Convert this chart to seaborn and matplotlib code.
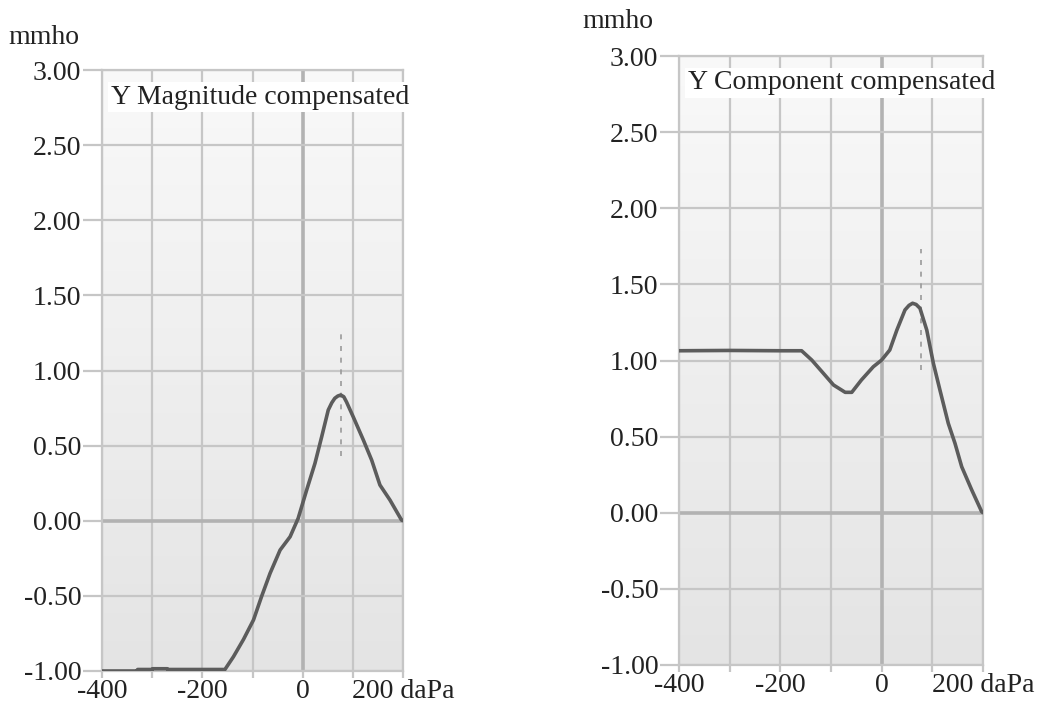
import numpy as np
import pandas as pd
import matplotlib
matplotlib.use("Agg")
import matplotlib.pyplot as plt
import seaborn as sns

sns.set_theme(style="white")
plt.rcParams['font.family'] = ['Liberation Serif', 'DejaVu Serif']
plt.rcParams['axes.unicode_minus'] = False

# ---- data ----
mag_x = [-400, -330, -329, -300, -299, -270, -269, -200, -190, -155, -138, -118, -98, -82, -65,
         -45, -25, -9, 8, 24.5, 38, 51, 58, 64, 70, 76, 82, 87.5, 101, 121, 137.5, 154, 174, 197, 200]
mag_y = [-1.00, -1.00, -0.99, -0.99, -0.985, -0.985, -0.99, -0.99, -0.99, -0.99, -0.905, -0.79,
         -0.66, -0.505, -0.35, -0.195, -0.106, 0.016, 0.205, 0.382, 0.56, 0.737, 0.785, 0.815,
         0.83, 0.837, 0.825, 0.79, 0.69, 0.537, 0.404, 0.238, 0.138, 0.005, 0.0]

comp_x = [-400, -300, -200, -158, -138, -118, -95, -72, -59, -40, -16.5, 0, 16, 30, 46, 54, 61,
          68, 75.6, 89, 102, 115, 131.5, 144.7, 158, 177.7, 197.4, 200]
comp_y = [1.064, 1.066, 1.064, 1.064, 1.003, 0.927, 0.839, 0.791, 0.791, 0.872, 0.959, 1.003,
          1.069, 1.20, 1.332, 1.362, 1.376, 1.368, 1.343, 1.20, 0.982, 0.806, 0.587, 0.456,
          0.302, 0.15, 0.007, 0.0]

mag_marker = [77, 0.43, 1.24]
comp_marker = [77, 0.94, 1.73]

titles = ["Y Magnitude compensated", "Y Component compensated"]
y_ticks = [-1.0, -0.5, 0.0, 0.5, 1.0, 1.5, 2.0, 2.5, 3.0]
y_tick_labels = ["-1.00", "-0.50", "0.00", "0.50", "1.00", "1.50", "2.00", "2.50", "3.00"]
x_major = [-400, -200, 0, 200]
x_major_labels = ["-400", "-200", "0", "200 daPa"]
x_minor = [-300, -100, 100]
y_unit = "mmho"

fig = plt.figure(figsize=(10.55, 7.04), dpi=100)
ax1 = fig.add_axes([102/1055, 1-671/704, 301/1055, 601/704])
ax2 = fig.add_axes([679/1055, 1-665/704, 304/1055, 609/704])

grad = np.linspace(0, 1, 256).reshape(-1, 1)
FS = 20
line_col = "#5c5c5c"
grid_col = "#c6c6c6"
zero_col = "#b2b2b2"
cmap = matplotlib.colors.LinearSegmentedColormap.from_list("g", ["#f9f9f9", "#e4e4e4"])

panels = [(ax1, mag_x, mag_y, mag_marker, titles[0], 0.955),
          (ax2, comp_x, comp_y, comp_marker, titles[1], 0.956)]

for ax, xs, ys, mk, title, ty in panels:
    ax.imshow(grad, extent=[0, 1, 0, 1], transform=ax.transAxes, cmap=cmap,
              aspect='auto', zorder=0, interpolation='bicubic')
    ax.set_xlim(-400, 200)
    ax.set_ylim(-1.0, 3.0)
    for xv in x_major + x_minor:
        ax.axvline(xv, color=zero_col if xv == 0 else grid_col, lw=2.6 if xv == 0 else 1.6, zorder=1)
    for yv in y_ticks:
        ax.axhline(yv, color=zero_col if yv == 0 else grid_col, lw=2.6 if yv == 0 else 1.6, zorder=1)
    ax.vlines(mk[0], mk[1], mk[2], colors="#9a9a9a", linestyles=(0, (3, 4)), lw=1.2, zorder=2)
    df = pd.DataFrame({"x": xs, "y": ys})
    sns.lineplot(data=df, x="x", y="y", ax=ax, color=line_col, lw=2.6, zorder=3, sort=False)
    ax.set_xlabel("")
    ax.set_ylabel("")
    ax.set_xticks(x_major)
    ax.set_xticklabels(x_major_labels)
    ax.set_xticks(x_minor, minor=True)
    ax.set_yticks(y_ticks)
    ax.set_yticklabels(y_tick_labels)
    ax.tick_params(axis='y', which='major', length=14, width=1.6, color=grid_col, pad=1,
                   labelsize=FS, labelcolor="#222222", left=True)
    ax.tick_params(axis='x', which='both', length=5, width=1.6, color=grid_col, pad=1,
                   labelsize=FS, labelcolor="#222222", bottom=True)
    for s in ax.spines.values():
        s.set_color(grid_col)
        s.set_linewidth(1.6)
    ax.text(0.03, ty, title, transform=ax.transAxes, fontsize=FS, color="#222222",
            ha='left', va='center', clip_on=False, zorder=5,
            bbox=dict(facecolor='white', edgecolor='none', pad=2))

fig.text(8/1055, 1-38/704, y_unit, fontsize=FS, color="#222222", ha='left', va='center')
fig.text(582/1055, 1-22/704, y_unit, fontsize=FS, color="#222222", ha='left', va='center')

fig.savefig("out.png", dpi=100, facecolor="white")
